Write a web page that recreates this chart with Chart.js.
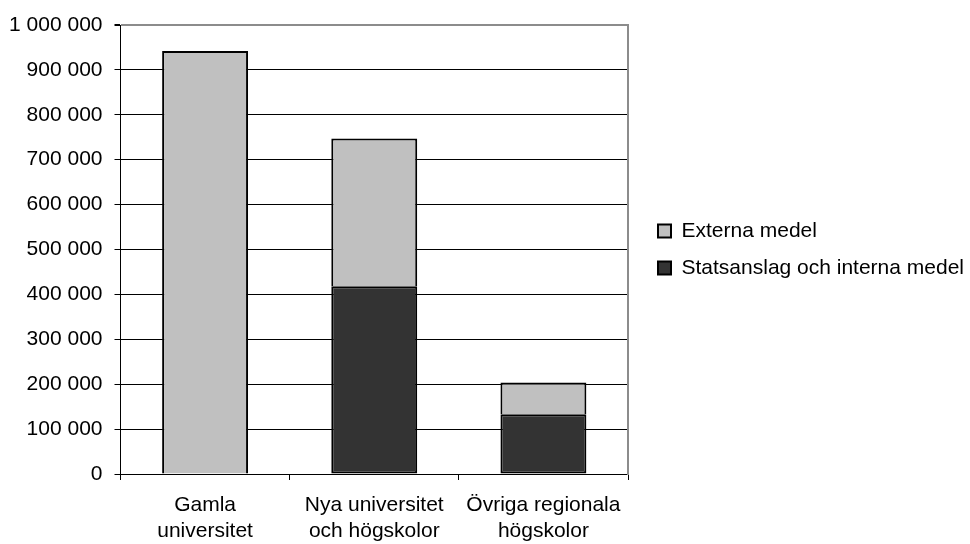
<!DOCTYPE html>
<html>
<head>
<meta charset="utf-8">
<script src="https://cdn.jsdelivr.net/npm/chart.js@4.4.1/dist/chart.umd.min.js"></script>
<style>
  html, body { margin: 0; padding: 0; background: #fff; }
  #wrap { width: 970px; height: 544px; }
</style>
</head>
<body>
<div id="wrap"><canvas id="chart" width="970" height="544"></canvas></div>
<script>
// Forskningsmedel per lärosätesgrupp
const categories = [
  ['Gamla', 'universitet'],
  ['Nya universitet', 'och högskolor'],
  ['Övriga regionala', 'högskolor'],
];
const statsanslag = [0, 418000, 133000];
const externa = [942000, 329000, 71000];

const FONT = { family: '"Liberation Sans", Arial, sans-serif', size: 21 };
const BORDER_GREY = '#8c8c8c';

// Format numbers with a space as thousands separator: 1 000 000
function spaced(v) {
  return String(v).replace(/\B(?=(\d{3})+(?!\d))/g, ' ');
}

// Give the legend a fixed column on the right and nudge it off the plot border
const legendColumn = {
  id: 'legendColumn',
  beforeUpdate(chart) {
    const legend = chart.legend;
    if (!legend || legend._patched) return;
    const fit = legend.fit;
    legend.fit = function () {
      fit.call(this);
      this.width = 342;
    };
    legend._patched = true;
  },
  afterLayout(chart) {
    if (chart.legend) {
      chart.legend.left += 14;
      chart.legend.right += 14;
    }
  },
};

new Chart(document.getElementById('chart'), {
  type: 'bar',
  plugins: [legendColumn],
  data: {
    labels: categories,
    datasets: [
      {
        label: 'Statsanslag och interna medel',
        data: statsanslag,
        backgroundColor: '#333333',
        borderColor: '#000000',
        borderWidth: 2,
        borderSkipped: false,
      },
      {
        label: 'Externa medel',
        data: externa,
        backgroundColor: '#c0c0c0',
        borderColor: '#000000',
        borderWidth: 2,
        // the segment below already draws the shared edge
        borderSkipped: 'bottom',
      },
    ],
  },
  options: {
    responsive: false,
    animation: false,
    layout: { padding: { top: 25, right: 0, bottom: 0, left: 0 } },
    datasets: {
      bar: { categoryPercentage: 1, barPercentage: 0.508 },
    },
    plugins: {
      tooltip: { enabled: false },
      legend: {
        position: 'right',
        fullSize: false,
        reverse: true,
        labels: {
          color: '#000',
          font: FONT,
          boxWidth: 13,
          boxHeight: 13,
          padding: 16,
        },
      },
    },
    scales: {
      x: {
        stacked: true,
        afterFit(scale) { scale.height = 70; },
        border: { color: '#000', width: 1 },
        grid: {
          offset: true,
          drawOnChartArea: false,
          tickColor: '#000',
          tickLength: 6,
        },
        ticks: {
          color: '#000',
          font: FONT,
          padding: 13,
          maxRotation: 0,
          autoSkip: false,
        },
      },
      y: {
        stacked: true,
        min: 0,
        max: 1000000,
        afterFit(scale) { scale.width = 120.5; },
        border: { color: '#000', width: 1 },
        grid: {
          color: (ctx) => (ctx.tick && ctx.tick.value === 1000000 ? BORDER_GREY : '#000'),
          lineWidth: (ctx) => (ctx.tick && ctx.tick.value === 1000000 ? 2 : 1),
          tickColor: '#000',
          tickLength: 6,
        },
        ticks: {
          stepSize: 100000,
          color: '#000',
          font: FONT,
          padding: 12,
          callback: (v) => spaced(v),
        },
      },
      // empty axis on the right, only used for the grey frame line
      frame: {
        position: 'right',
        min: 0,
        max: 1000000,
        afterFit(scale) { scale.width = 0; },
        border: { color: BORDER_GREY, width: 2 },
        grid: { drawOnChartArea: false, drawTicks: false },
        ticks: { display: false },
      },
    },
  },
});
</script>
</body>
</html>
